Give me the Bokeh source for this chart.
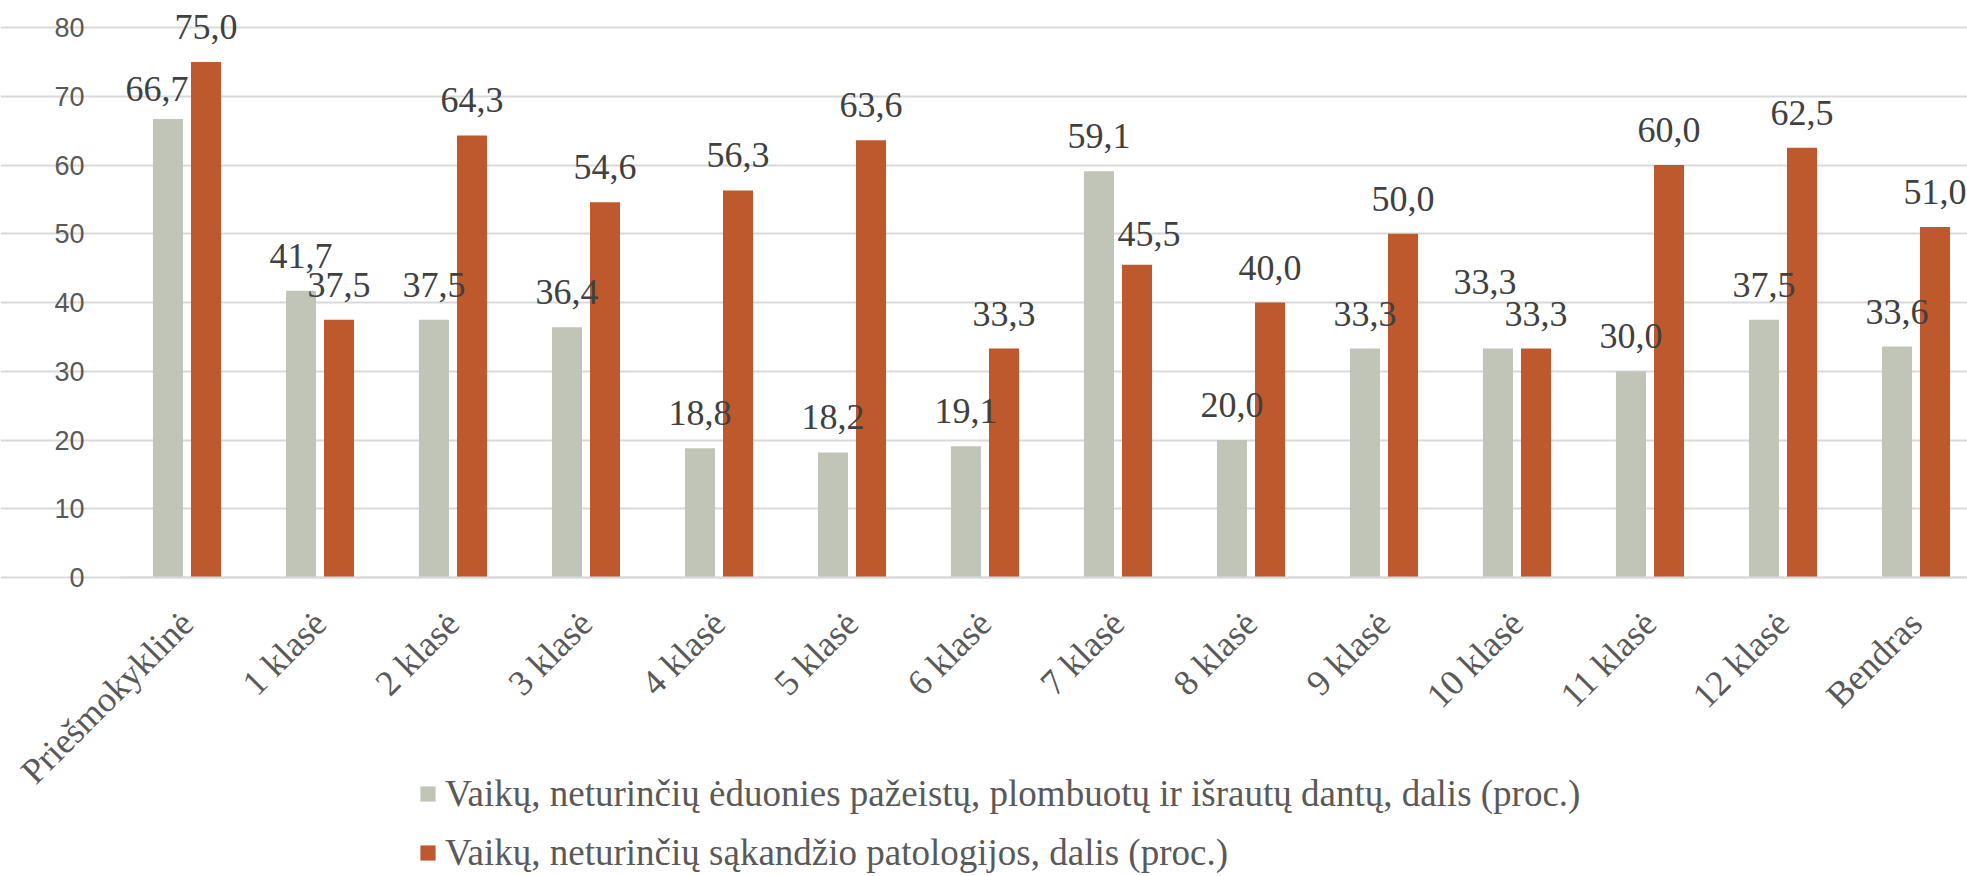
import math
from bokeh.plotting import figure
from bokeh.models import ColumnDataSource, FixedTicker, Legend, LegendItem, Range1d
from bokeh.core.properties import value
from bokeh.embed import file_html
from bokeh.resources import INLINE

categories = ["Priešmokyklinė", "1 klasė", "2 klasė", "3 klasė", "4 klasė", "5 klasė",
              "6 klasė", "7 klasė", "8 klasė", "9 klasė", "10 klasė", "11 klasė",
              "12 klasė", "Bendras"]
caries_free = [66.7, 41.7, 37.5, 36.4, 18.8, 18.2, 19.1, 59.1, 20.0, 33.3, 33.3, 30.0, 37.5, 33.6]
bite_ok = [75.0, 37.5, 64.3, 54.6, 56.3, 63.6, 33.3, 45.5, 40.0, 50.0, 33.3, 60.0, 62.5, 51.0]
y_ticks = [0, 10, 20, 30, 40, 50, 60, 70, 80]
series_names = [
    "Vaikų, neturinčių ėduonies pažeistų, plombuotų ir išrautų dantų, dalis (proc.)",
    "Vaikų, neturinčių sąkandžio patologijos, dalis (proc.)",
]

GREY = "#C0C5B8"
ORANGE = "#BE592E"
LABEL_COL = "#404040"
AXIS_COL = "#595959"
GRID_COL = "#D9D9D9"

BAR_W = 0.226
OFF = 0.143
LABEL_LIFT = 35   # px

def fmt(v):
    return f"{v:.1f}".replace(".", ",")

# manual label nudges (screen px: dx, extra lift) as in the original chart
nudge_grey = {0: (-11, -5), 10: (-13, 32)}
nudge_orange = {7: (12, -4)}

idx = list(range(len(categories)))
src_g = ColumnDataSource(dict(
    x=[i - OFF for i in idx], top=caries_free, lab=[fmt(v) for v in caries_free],
    dx=[nudge_grey.get(i, (0, 0))[0] for i in idx],
    dy=[-LABEL_LIFT - nudge_grey.get(i, (0, 0))[1] for i in idx]))
src_o = ColumnDataSource(dict(
    x=[i + OFF for i in idx], top=bite_ok, lab=[fmt(v) for v in bite_ok],
    dx=[nudge_orange.get(i, (0, 0))[0] for i in idx],
    dy=[-LABEL_LIFT - nudge_orange.get(i, (0, 0))[1] for i in idx]))

W, H = 1967, 876
plot_left = 120       # pixel column where the category area starts
zero_y = 577          # pixel row of the value 0
px_per_cat = 133.0
px_per_unit = 6.875
x_start = -0.5 - plot_left / px_per_cat
x_end = -0.5 + (W - plot_left) / px_per_cat

p = figure(width=W, height=H, output_backend="svg", toolbar_location=None,
           x_range=Range1d(x_start, x_end),
           y_range=Range1d(-(H - zero_y) / px_per_unit, zero_y / px_per_unit),
           min_border_left=0, min_border_right=0, min_border_top=0,
           min_border_bottom=0)
p.outline_line_color = None
p.background_fill_color = "white"

rg = p.vbar(x="x", top="top", width=BAR_W, bottom=0, source=src_g, fill_color=GREY, line_color=None)
ro = p.vbar(x="x", top="top", width=BAR_W, bottom=0, source=src_o, fill_color=ORANGE, line_color=None)

for s in (src_g, src_o):
    p.text(x="x", y="top", text="lab", source=s, x_offset="dx", y_offset="dy",
           text_align="center", text_baseline="alphabetic",
           text_font=value("Liberation Serif"), text_font_size="36px", text_color=LABEL_COL)

# axes
xa = p.xaxis[0]
xa.fixed_location = 0
xa.bounds = (-0.5, x_end)
xa.ticker = FixedTicker(ticks=idx)
xa.major_label_overrides = {i: c for i, c in enumerate(categories)}
xa.major_label_orientation = math.pi / 4
xa.major_label_text_font = "Liberation Serif"
xa.major_label_text_font_size = "36px"
xa.major_label_text_color = AXIS_COL
xa.major_label_standoff = 34
xa.major_tick_line_color = None
xa.minor_tick_line_color = None
xa.axis_line_color = GRID_COL
xa.axis_line_width = 2

ya = p.yaxis[0]
ya.fixed_location = -0.5
ya.ticker = FixedTicker(ticks=y_ticks)
ya.major_label_text_font = "Liberation Sans"
ya.major_label_text_font_size = "27px"
ya.major_label_text_color = AXIS_COL
ya.major_label_standoff = 30
ya.major_tick_line_color = None
ya.minor_tick_line_color = None
ya.axis_line_color = None

p.xgrid.grid_line_color = None
p.ygrid.grid_line_color = GRID_COL
p.ygrid.grid_line_width = 2
p.ygrid.bounds = (-0.5, x_end)

legend = Legend(items=[LegendItem(label=series_names[0], renderers=[rg]),
                       LegendItem(label=series_names[1], renderers=[ro])],
                location=(418, 2), orientation="vertical",
                label_text_font="Liberation Serif", label_text_font_size="37px",
                label_text_color=AXIS_COL, glyph_width=19, glyph_height=19,
                label_standoff=8, spacing=16, padding=0, margin=0,
                border_line_color=None, background_fill_alpha=0)
p.add_layout(legend, "center")

open("out.html", "w").write(file_html(p, INLINE))
